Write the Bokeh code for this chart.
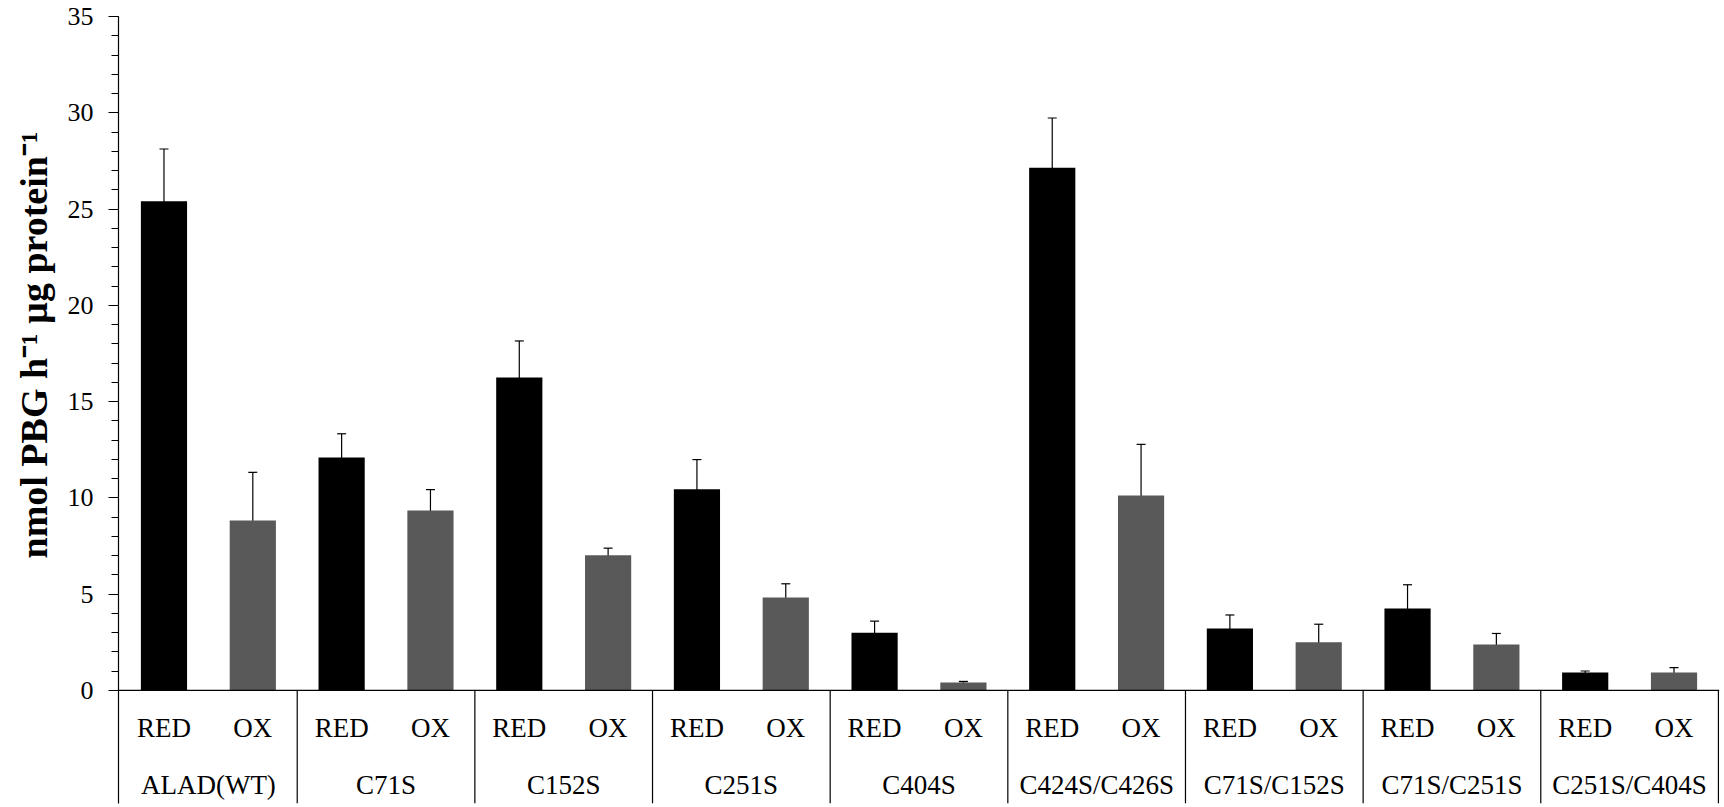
from bokeh.plotting import figure
from bokeh.models import (ColumnDataSource, FactorRange, Range1d, FixedTicker, Whisker,
                          TeeHead, Span, Title)
from bokeh.transform import factor_cmap
from bokeh.core.properties import value
from bokeh.embed import file_html
from bokeh.resources import INLINE

# ---- data ----
groups = ["ALAD(WT)", "C71S", "C152S", "C251S", "C404S", "C424S/C426S",
          "C71S/C152S", "C71S/C251S", "C251S/C404S"]
conditions = ["RED", "OX"]
red_mean = [25.4, 12.1, 16.25, 10.45, 3.0, 27.15, 3.22, 4.26, 0.93]
red_err = [2.72, 1.23, 1.9, 1.54, 0.6, 2.58, 0.7, 1.23, 0.08]
ox_mean = [8.83, 9.35, 7.02, 4.83, 0.42, 10.12, 2.5, 2.39, 0.93]
ox_err = [2.5, 1.08, 0.37, 0.71, 0.05, 2.66, 0.94, 0.57, 0.26]
y_ticks = [0, 5, 10, 15, 20, 25, 30, 35]
y_title = "nmol PBG h\u207b\u00b9 \u00b5g protein\u207b\u00b9"

FONT = "Liberation Serif"
COLORS = ["#000000", "#595959"]

factors = [(g, c) for g in groups for c in conditions]
means, errs = [], []
for i in range(len(groups)):
    means += [red_mean[i], ox_mean[i]]
    errs += [red_err[i], ox_err[i]]

src = ColumnDataSource(dict(
    x=factors, top=means,
    upper=[m + e for m, e in zip(means, errs)],
    lower=[m - e for m, e in zip(means, errs)],
    cond=[f[1] for f in factors],
))

Y_MIN = -5.87
p = figure(x_range=FactorRange(*factors, factor_padding=0, group_padding=0,
                               range_padding=0.012, range_padding_units="absolute"),
           y_range=Range1d(Y_MIN, 35),
           width=1722, height=805, output_backend="svg", toolbar_location=None,
           min_border_left=117, min_border_right=3, min_border_top=16, min_border_bottom=2)
p.xaxis.visible = False
p.xgrid.grid_line_color = None
p.ygrid.grid_line_color = None
p.outline_line_color = None
p.background_fill_color = "white"
p.border_fill_color = "white"

p.vbar(x="x", top="top", width=0.52, source=src, line_color=None,
       fill_color=factor_cmap("x", COLORS, conditions, start=1, end=2))

p.add_layout(Whisker(source=src, base="x", upper="upper", lower="lower",
                     dimension="height", line_color="black", line_width=1.2,
                     upper_head=TeeHead(size=9, line_color="black", line_width=1.2),
                     lower_head=TeeHead(size=9, line_color="black", line_width=1.2)))

# zero baseline
p.add_layout(Span(location=0, dimension="width", line_color="black", line_width=1.3))

# group separators (right edge of each group)
sep = ColumnDataSource(dict(x=[(g, "OX", 0.5) for g in groups],
                            y0=[0] * len(groups), y1=[Y_MIN] * len(groups)))
p.segment(x0="x", x1="x", y0="y0", y1="y1", source=sep, line_color="black", line_width=1.2)

# sub labels
sub = ColumnDataSource(dict(x=factors, y=[-1.97] * len(factors), t=[f[1] for f in factors]))
p.text(x="x", y="y", text="t", source=sub, text_font=value(FONT), text_font_size="27px",
       text_align="center", text_baseline="middle", text_color="black")
# group labels
grp = ColumnDataSource(dict(x=[(g, "RED", 0.5) for g in groups],
                            y=[-4.93] * len(groups), t=groups))
p.text(x="x", y="y", text="t", source=grp, text_font=value(FONT), text_font_size="27px",
       text_align="center", text_baseline="middle", text_color="black")

ya = p.yaxis[0]
ya.ticker = FixedTicker(ticks=y_ticks, minor_ticks=list(range(0, 36)))
ya.axis_line_color = "black"
ya.axis_line_width = 1.2
ya.major_tick_in = 0
ya.major_tick_out = 10
ya.minor_tick_in = 0
ya.minor_tick_out = 7
ya.major_tick_line_width = 1.2
ya.minor_tick_line_width = 1.0
ya.major_label_text_font = FONT
ya.major_label_text_font_size = "26px"
ya.major_label_text_color = "black"
ya.major_label_standoff = 15

p.add_layout(Title(text=y_title, align="left", offset=245, standoff=20,
                   text_font=FONT, text_font_size="38px", text_font_style="bold",
                   text_color="black"), "left")

open("out.html", "w").write(file_html(p, INLINE))
